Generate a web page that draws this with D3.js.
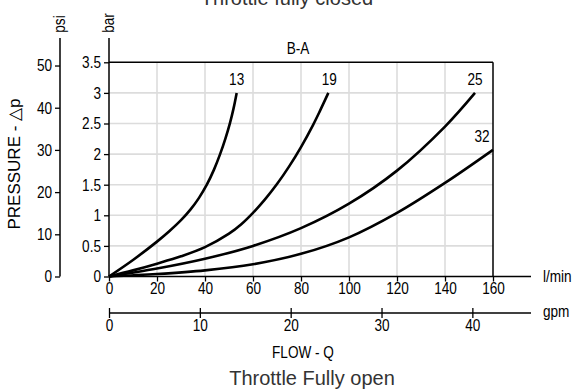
<!DOCTYPE html>
<html><head><meta charset="utf-8">
<script src="https://cdn.jsdelivr.net/npm/d3@7"></script>
<style>
body{margin:0;background:#fff;}
text{font-family:"Liberation Sans",Arial,sans-serif;}
.n{transform-box:fill-box;}
.n.s{transform-origin:left center;transform:scaleX(0.8);}
.n.m{transform-origin:center center;transform:scaleX(0.8);}
.n.e{transform-origin:right center;transform:scaleX(0.8);}
</style></head>
<body><svg id="c" width="578" height="389"></svg>
<script>
const flowTicks = [0,20,40,60,80,100,120,140,160];
const gpmTicks = [0,10,20,30,40];
const barTicks = [0,0.5,1,1.5,2,2.5,3,3.5];
const psiTicks = [0,10,20,30,40,50];
const seriesNames = ["13","19","25","32"];
const curve13 = [[0,0],[10,0.27],[20,0.57],[25,0.735],[30,0.92],[34,1.096],[37.5,1.285],[40.7,1.496],[43.7,1.742],[46.25,1.995],[48.5,2.254],[50.4,2.507],[51.9,2.747],[53.2,3.0]];
const curve19 = [[0,0],[10,0.1],[20,0.21],[30,0.33],[40,0.48],[50,0.7],[55,0.85],[60,1.04],[65,1.26],[70,1.51],[75,1.795],[80,2.115],[85,2.475],[88,2.715],[91.4,3.0]];
const curve25 = [[0,0],[20,0.13],[40,0.29],[60,0.5],[80,0.79],[100,1.19],[120,1.73],[140,2.45],[152.5,3.0]];
const curve32 = [[0,0],[20,0.04],[40,0.1],[60,0.2],[80,0.37],[100,0.64],[120,1.04],[140,1.53],[160,2.07]];
const curves = [curve13,curve19,curve25,curve32];

const svg = d3.select("#c");
const x = d3.scaleLinear().domain([0,160]).range([109,493]);
const y = d3.scaleLinear().domain([0,3.5]).range([276.5,62.3]);
const L_PER_GAL = 3.785;
const xg = d3.scaleLinear().domain([0,160/L_PER_GAL]).range([109,493]);
const psiPerBar = 14.5038;
const yp = d3.scaleLinear().domain([0,3.5*psiPerBar]).range([276.5,62.3]);

// grid
const g = svg.append("g");
g.selectAll(".vg").data(flowTicks.filter(d=>d>0&&d<160)).join("line")
 .attr("x1",d=>x(d)).attr("x2",d=>x(d)).attr("y1",y(0)).attr("y2",y(3.5))
 .attr("stroke","#dcdcdc").attr("stroke-width",1.6);
g.selectAll(".hg").data(barTicks.filter(d=>d>0&&d<3.5)).join("line")
 .attr("x1",x(0)).attr("x2",x(160)).attr("y1",d=>y(d)).attr("y2",d=>y(d))
 .attr("stroke","#dcdcdc").attr("stroke-width",1.6);
g.append("line").attr("x1",x(0)).attr("x2",x(160)).attr("y1",y(3.5)).attr("y2",y(3.5)).attr("stroke","#000").attr("stroke-width",1.5);
g.append("line").attr("x1",x(160)).attr("x2",x(160)).attr("y1",y(3.5)).attr("y2",y(0)).attr("stroke","#000").attr("stroke-width",1.5);

const fs = "17px";
// x axis l/min
const xa = svg.append("g").attr("transform",`translate(0,${y(0)})`)
 .call(d3.axisBottom(x).tickValues(flowTicks).tickSize(5).tickFormat(d3.format("d")));
xa.select(".domain").remove();
xa.append("line").attr("x1",x(0)).attr("x2",531).attr("stroke","#000").attr("stroke-width",1.5);
xa.selectAll("text").attr("font-size",fs).attr("fill","#000").attr("y",18).attr("dy",0).attr("class","n m");
xa.selectAll(".tick line").attr("stroke-width",1.3);
svg.append("text").attr("class","n s").attr("x",543).attr("y",y(0)+6).attr("font-size",fs).text("l/min");

// gpm axis
const ga = svg.append("g").attr("transform","translate(0,313)")
 .call(d3.axisBottom(xg).tickValues(gpmTicks).tickSize(5).tickFormat(d3.format("d")));
ga.select(".domain").remove();
ga.append("line").attr("x1",x(0)).attr("x2",531).attr("stroke","#000").attr("stroke-width",1.5);
ga.selectAll(".tick line").attr("y1",-5).attr("stroke-width",1.3);
ga.selectAll("text").attr("font-size",fs).attr("fill","#000").attr("y",18).attr("dy",0).attr("class","n m");
svg.append("text").attr("class","n s").attr("x",543).attr("y",317).attr("font-size",fs).text("gpm");

// bar axis
const ba = svg.append("g").attr("transform",`translate(${x(0)},0)`)
 .call(d3.axisLeft(y).tickValues(barTicks).tickSize(5).tickFormat(d=>d));
ba.select(".domain").remove();
ba.append("line").attr("y1",y(0)).attr("y2",38).attr("stroke","#000").attr("stroke-width",1.5);
ba.selectAll("text").attr("font-size",fs).attr("fill","#000").attr("x",-8).attr("class","n e");
ba.selectAll(".tick line").attr("stroke-width",1.3);

// psi axis
const pa = svg.append("g").attr("transform","translate(60,0)")
 .call(d3.axisLeft(yp).tickValues(psiTicks).tickSize(5).tickFormat(d3.format("d")));
pa.select(".domain").remove();
pa.append("line").attr("y1",yp(0)).attr("y2",38).attr("stroke","#000").attr("stroke-width",1.5);
pa.selectAll("text").attr("font-size",fs).attr("fill","#000").attr("x",-8).attr("class","n e");
pa.selectAll(".tick line").attr("stroke-width",1.3);

svg.append("text").attr("transform","translate(65,24) rotate(-90) scale(0.8,1)").attr("text-anchor","middle").attr("font-size",fs).text("psi");
svg.append("text").attr("transform","translate(114,23) rotate(-90) scale(0.8,1)").attr("text-anchor","middle").attr("font-size",fs).text("bar");
svg.append("text").attr("transform","translate(20,164) rotate(-90)").attr("text-anchor","middle").attr("font-size",fs).text("PRESSURE - \u25B3p");

// curves
const line = d3.line().x(d=>x(d[0])).y(d=>y(d[1])).curve(d3.curveCatmullRom.alpha(0.5));
svg.append("g").selectAll("path").data(curves).join("path")
 .attr("d",line).attr("fill","none").attr("stroke","#000").attr("stroke-width",2.6);

// curve labels
const labelOffsets = [[0,-8],[1,-8],[0,-8],[-11,-8]];
svg.append("g").selectAll("text").data(curves).join("text")
 .attr("class","n m")
 .attr("x",(d,i)=>x(d[d.length-1][0])+labelOffsets[i][0])
 .attr("y",(d,i)=>y(d[d.length-1][1])+labelOffsets[i][1])
 .attr("text-anchor","middle").attr("font-size",fs)
 .text((d,i)=>seriesNames[i]);

// titles
svg.append("text").attr("class","n m").attr("x",298).attr("y",54).attr("text-anchor","middle").attr("font-size",fs).text("B-A");
svg.append("text").attr("x",287).attr("y",5).attr("text-anchor","middle").attr("font-size","20px").attr("fill","#333").text("Throttle fully closed");
svg.append("text").attr("class","n m").attr("x",303).attr("y",358).attr("text-anchor","middle").attr("font-size",fs).text("FLOW - Q");
svg.append("text").attr("x",312).attr("y",385).attr("text-anchor","middle").attr("font-size","20px").attr("fill","#333").text("Throttle Fully open");
</script></body></html>
